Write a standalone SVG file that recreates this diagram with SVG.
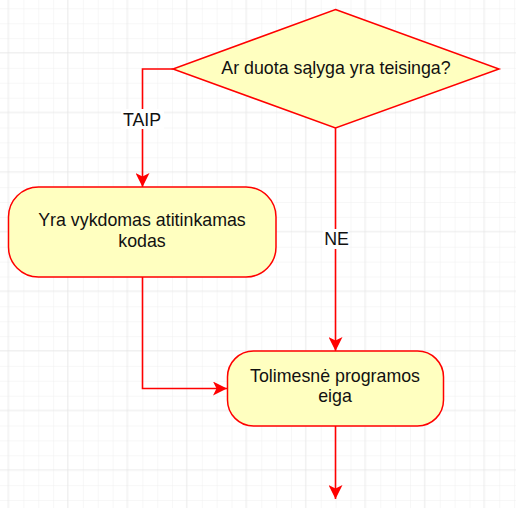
<svg xmlns="http://www.w3.org/2000/svg" width="516" height="508" viewBox="0 0 516 508">
<defs>
<pattern id="minor" x="8.5" y="8.3" width="14.87" height="14.9" patternUnits="userSpaceOnUse">
<path d="M0 0V14.9M0 0H14.87" fill="none" stroke="#f0f0f0" stroke-width="1"/>
</pattern>
<pattern id="major" x="8.5" y="-6.6" width="59.48" height="59.6" patternUnits="userSpaceOnUse">
<path d="M59.48 0V59.6M0 59.6H59.48" fill="none" stroke="#e4e4e4" stroke-width="1"/>
</pattern>
<marker id="arr" viewBox="0 0 14 14" refX="14" refY="7" markerWidth="14" markerHeight="14" markerUnits="userSpaceOnUse" orient="auto">
<path d="M0 0L14 7L0 14L3.5 7Z" fill="#ff0000"/>
</marker>
<style>
.node{fill:#ffffc0;stroke:#ff0000;stroke-width:1.5}
.edge{fill:none;stroke:#ff0000;stroke-width:1.6}
.t{font-family:"Liberation Sans",Arial,sans-serif;font-size:17.8px;fill:#111111;text-anchor:middle}
</style>
</defs>
<rect width="516" height="508" fill="#ffffff"/>
<rect width="516" height="508" fill="url(#minor)"/>
<rect width="516" height="508" fill="url(#major)"/>
<g id="connectors">
<path class="edge" d="M173 69H142.5V187" marker-end="url(#arr)"/>
<path class="edge" d="M335.5 128V351" marker-end="url(#arr)"/>
<path class="edge" d="M142.5 277V388.5H227" marker-end="url(#arr)"/>
<path class="edge" d="M335.5 426V499" marker-end="url(#arr)"/>
<rect x="121" y="109" width="43" height="20" fill="#ffffff"/>
<text class="t" x="142" y="125.5">TAIP</text>
<rect x="323" y="229" width="26" height="20" fill="#ffffff"/>
<text class="t" x="336.5" y="244.5">NE</text>
</g>
<g id="decision">
<path class="node" d="M335.5 9.5L499 69L335.5 128L173 69Z"/>
<text class="t" x="336" y="73.5">Ar duota sąlyga yra teisinga?</text>
</g>
<g id="code">
<rect class="node" x="8.5" y="187" width="267.5" height="90" rx="30" ry="30"/>
<text class="t" x="142" y="226">Yra vykdomas atitinkamas</text>
<text class="t" x="142" y="246.7">kodas</text>
</g>
<g id="continue">
<rect class="node" x="227.5" y="351" width="216" height="75" rx="26" ry="26"/>
<text class="t" x="335" y="382">Tolimesnė programos</text>
<text class="t" x="335" y="402">eiga</text>
</g>
</svg>
